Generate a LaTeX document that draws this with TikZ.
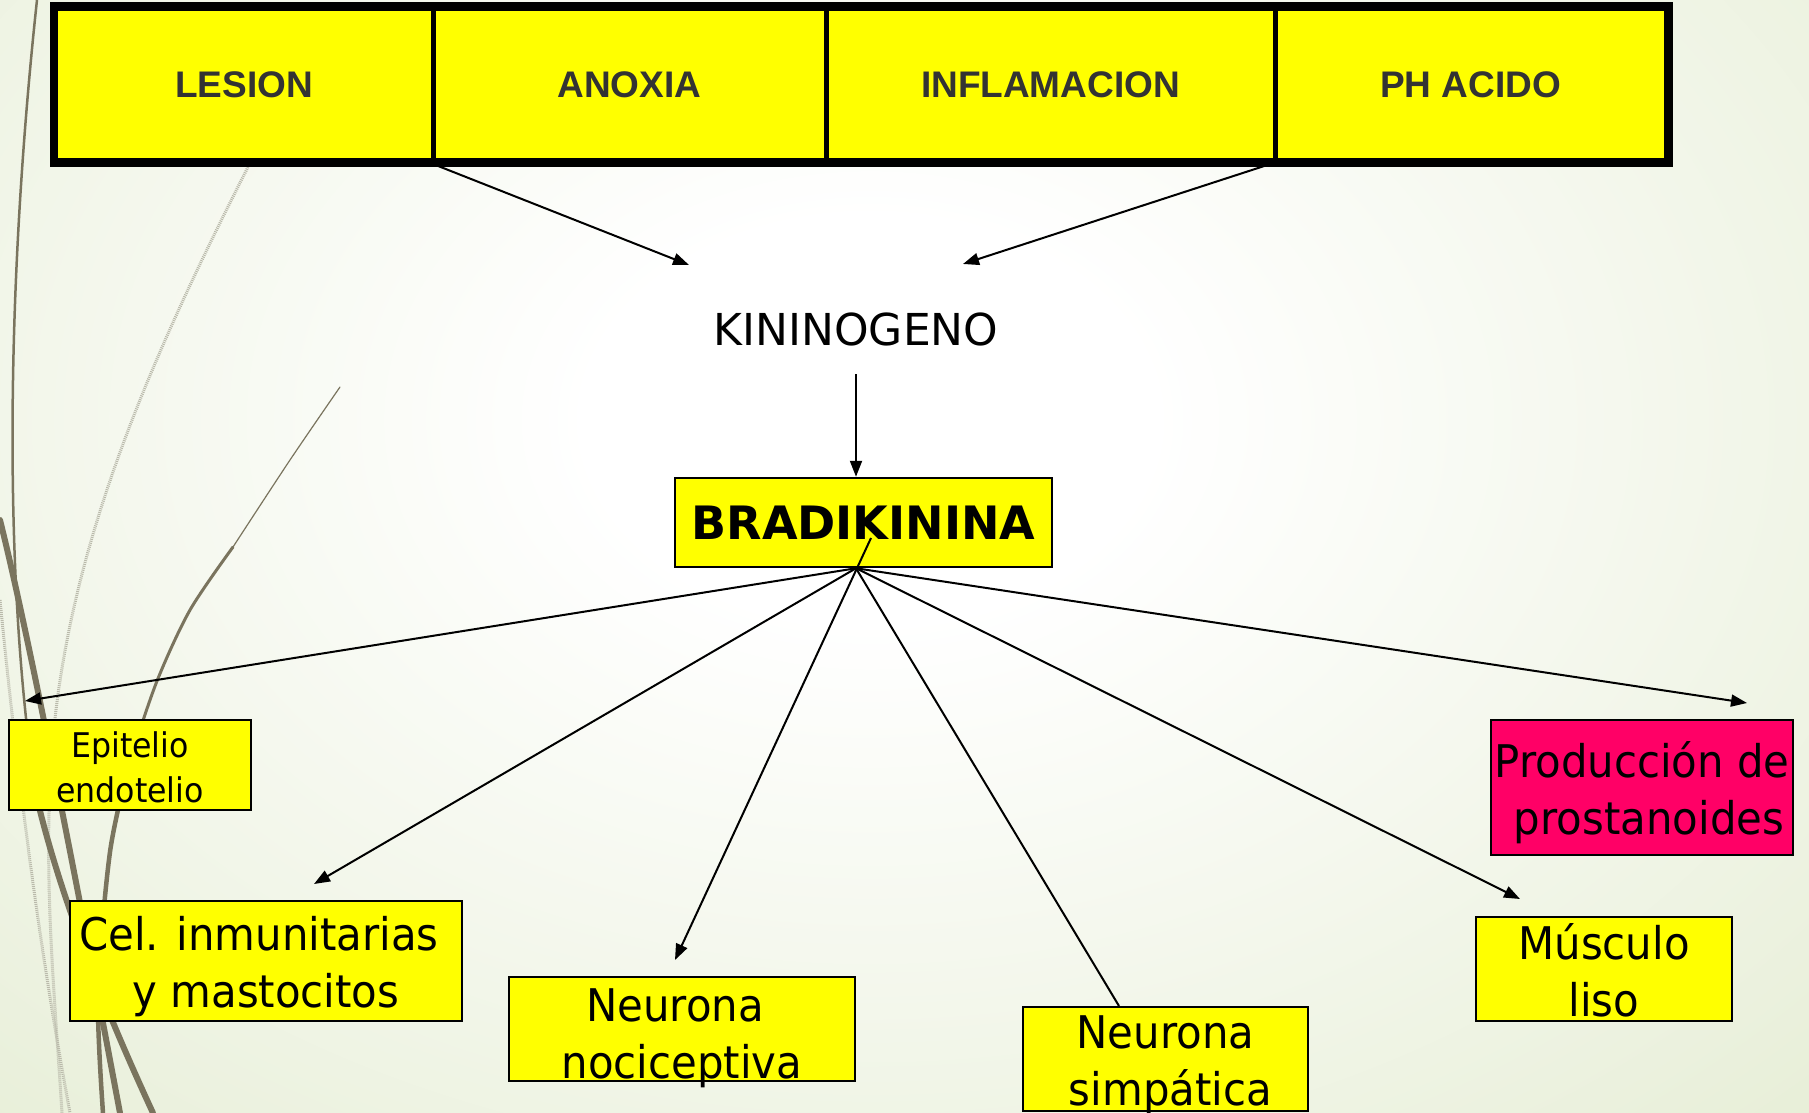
\documentclass[tikz,border=0pt]{standalone}
\usepackage{fontspec}
\usetikzlibrary{arrows.meta}
\newfontfamily\tah[FakeStretch=0.93]{DejaVu Sans}
\newfontfamily\dvs{DejaVu Sans}
\newfontfamily\arl{Liberation Sans}
\definecolor{bgG}{RGB}{222,232,200}
\definecolor{yel}{RGB}{255,255,0}
\definecolor{mag}{RGB}{255,0,102}
\definecolor{deco}{RGB}{122,116,94}
\definecolor{hatch}{RGB}{185,185,170}
\definecolor{topgray}{RGB}{51,51,51}
\pgfdeclareradialshading{bgshade}{\pgfpoint{0bp}{0bp}}{color(0bp)=(white); color(5bp)=(white); color(32bp)=(bgG); color(80bp)=(bgG)}
\begin{document}
\begin{tikzpicture}[x=1pt,y=-1pt,
 topcell/.style={draw=black, line width=5pt, fill=yel, minimum height=152pt, inner sep=0pt, font=\arl\bfseries\fontsize{37}{44}\selectfont, text=topgray},
 ybox/.style={draw=black, line width=2.2pt, fill=yel, inner sep=0pt},
 txt/.style={inner sep=0pt, align=center, font=\tah\fontsize{45}{57}\selectfont},
 arr/.style={line width=2pt, -{Triangle[length=16pt,width=12pt]}},
 ln/.style={line width=2pt},
 decoline/.style={draw=deco, line cap=round},
 hatchline/.style={draw=hatch, line width=3pt, dash pattern=on 1pt off 1pt},
]
\useasboundingbox (0,0) rectangle (1809,1113);
% background
\begin{scope}
\clip (0,0) rectangle (1809,1113);
\fill[bgG] (0,0) rectangle (1809,1113);
\shade[shading=bgshade] (870,420) ellipse [x radius=1400pt, y radius=1000pt];
\draw[hatchline] (248,167) .. controls (150,360) and (60,560) .. (50,781) .. controls (45,900) and (55,1000) .. (62,1113);
\draw[hatchline] (0,600) .. controls (20,800) and (40,950) .. (70,1113);
\draw[decoline, line width=2.5pt] (37,0) .. controls (10,250) and (0,550) .. (35,790);
\draw[decoline, line width=6pt] (35,790) .. controls (60,900) and (110,1020) .. (153,1113);
\draw[decoline, line width=6pt] (0,520) .. controls (30,640) and (80,900) .. (120,1113);
\draw[decoline, line width=1.2pt] plot[smooth] coordinates {(340,387) (290,460) (233,547)};
\draw[decoline, line width=3pt] plot[smooth] coordinates {(233,547) (190,610) (157,681) (130,760)};
\draw[decoline, line width=4.5pt] plot[smooth] coordinates {(130,760) (110,852) (98,994) (103,1113)};
\end{scope}
% top row
\node[topcell, minimum width=377.5pt] (lesion) at (244.25,84.5) {\raisebox{-2pt}{LESION}};
\node[topcell, minimum width=393pt] (anoxia) at (629.5,84.5) {\raisebox{-2pt}{ANOXIA}};
\node[topcell, minimum width=449pt] (infl) at (1050.5,84.5) {\raisebox{-2pt}{INFLAMACION}};
\node[topcell, minimum width=391.5pt] (ph) at (1470.75,84.5) {\raisebox{-2pt}{PH ACIDO}};
\draw[line width=7pt] (lesion.north west) rectangle (ph.south east);
% middle
\node[fill=white, minimum width=272pt, minimum height=120pt, inner sep=0pt, font=\dvs\fontsize{44}{52}\selectfont] (kin) at (856,329) {KININOGENO};
\node[draw=black, line width=2.5pt, fill=yel, minimum width=377pt, minimum height=89pt, inner sep=0pt, font=\dvs\bfseries\fontsize{46}{55}\selectfont] (brad) at (863.5,522.5) {\raisebox{-2pt}{BRADIKININA}};
% targets
\node[ybox, minimum width=242pt, minimum height=90pt,
  label={[txt, font=\tah\fontsize{34}{45}\selectfont, yshift=-2pt]center:{Epitelio\\endotelio}}] (epi) at (130,765) {};
\node[ybox, minimum width=392pt, minimum height=120pt,
  label={[txt, yshift=-6pt]center:{Cel. inmunitarias\kern14pt\\y mastocitos}}] (cel) at (266,961) {};
\node[ybox, minimum width=346pt, minimum height=104pt,
  label={[txt, yshift=-9pt]center:{Neurona\kern14pt\\nociceptiva}}] (noci) at (682,1029) {};
\node[ybox, minimum width=285pt, minimum height=104pt,
  label={[txt, yshift=-6pt]center:{Neurona\\\kern10pt simpática}}] (simp) at (1165.5,1059) {};
\node[ybox, minimum width=256pt, minimum height=104pt,
  label={[txt, yshift=-1pt]center:{Músculo\\liso}}] (mus) at (1604,969) {};
\node[ybox, fill=mag, minimum width=302pt, minimum height=135pt,
  label={[txt, yshift=-5pt]center:{Producción de\\\kern14pt prostanoides}}] (prod) at (1642,787.5) {};
% connector ends
\coordinate (kinL) at (689,265);
\coordinate (kinR) at (963,264);
\coordinate (fan) at (kin.south |- brad.south);
\coordinate (nociStart) at (871,538);
\coordinate (tEpi) at (25,701);
\coordinate (tCel) at (314,884);
\coordinate (tNoci) at (675,960);
\coordinate (tSimp) at (1119,1006);
\coordinate (tMus) at (1520,899);
\coordinate (tProd) at (1747,703);
% connectors
\draw[arr] ([xshift=-5pt]lesion.south east) -- (kinL);
\draw[arr] ([xshift=-4pt]infl.south east) -- (kinR);
\draw[arr] ([yshift=15pt]kin.south) -- (kin.south |- brad.north);
\draw[arr] (fan) -- (tEpi);
\draw[arr] (fan) -- (tCel);
\draw[arr] (nociStart) -- (tNoci);
\draw[ln] (fan) -- (tSimp);
\draw[arr] (fan) -- (tMus);
\draw[arr] (fan) -- (tProd);
\end{tikzpicture}
\end{document}
